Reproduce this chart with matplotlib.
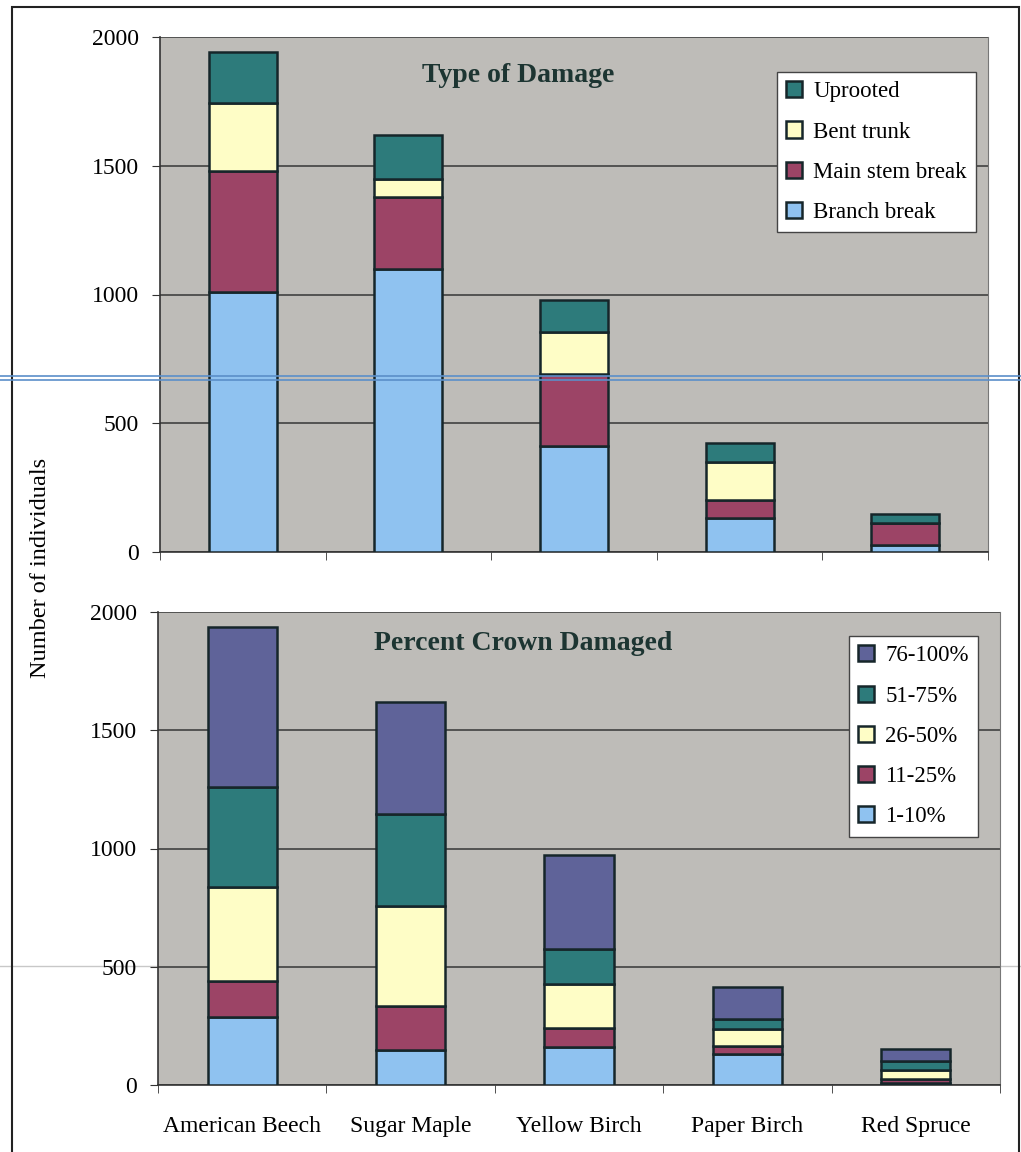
import numpy as np
import matplotlib.pyplot as plt
from matplotlib.lines import Line2D
from matplotlib.patches import Rectangle

plt.rcParams['font.family'] = ['Liberation Serif', 'DejaVu Serif']

species = ['American Beech', 'Sugar Maple', 'Yellow Birch', 'Paper Birch', 'Red Spruce']

# type of damage (top panel), stacked bottom -> top
branch_break = [1010, 1100, 410, 131, 27]
main_stem_break = [470, 280, 280, 71, 85]
bent_trunk = [262, 70, 165, 148, 0]
uprooted = [200, 170, 125, 72, 34]

# percent crown damaged (bottom panel), stacked bottom -> top
pct_1_10 = [286, 147, 161, 129, 8]
pct_11_25 = [153, 186, 80, 37, 17]
pct_26_50 = [397, 423, 184, 70, 37]
pct_51_75 = [425, 388, 151, 42, 39]
pct_76_100 = [677, 475, 398, 135, 51]

c_blue = '#8fc2f0'
c_maroon = '#9c4466'
c_yellow = '#fefdc6'
c_teal = '#2d7b7b'
c_slate = '#5f6399'
bg = '#bebcb8'
edge = '#16262a'
title_col = '#1d3532'

W, H = 1021, 1152
fig = plt.figure(figsize=(W / 100, H / 100), dpi=100)

def px_axes(left, right, top, bottom):
    return fig.add_axes([left / W, 1 - bottom / H, (right - left) / W, (bottom - top) / H])

def style_axes(ax):
    ax.set_facecolor(bg)
    ax.set_xlim(-0.5, len(species) - 0.5)
    ax.set_ylim(0, 2000)
    ax.set_yticks([0, 500, 1000, 1500, 2000])
    ax.grid(axis='y', color='#4a4a4a', linewidth=1.3, zorder=0)
    ax.set_axisbelow(True)
    ax.spines['top'].set_visible(False)
    ax.spines['right'].set_color('#777777')
    ax.spines['left'].set_color('#333333')
    ax.spines['bottom'].set_color('#333333')
    ax.spines['left'].set_linewidth(1.2)
    ax.spines['bottom'].set_linewidth(1.2)
    ax.set_xticks(np.arange(len(species)))
    ax.set_xticks(np.arange(len(species) + 1) - 0.5, minor=True)
    ax.tick_params(axis='x', which='major', length=0, labelsize=17, pad=22)
    ax.tick_params(axis='x', which='minor', length=6, color='#333333')
    ax.tick_params(axis='y', length=6, labelsize=17, pad=9, color='#333333')

def stack(ax, layers, colors, labels):
    x = np.arange(len(species))
    base = np.zeros(len(species))
    handles = []
    for vals, col, lab in zip(layers, colors, labels):
        b = ax.bar(x, vals, 0.41, bottom=base, color=col, edgecolor=edge,
                   linewidth=1.8, label=lab, zorder=3)
        base += np.array(vals)
        handles.append(b)
    return handles

def add_legend(ax, handles, anchor):
    leg = ax.legend(handles[::-1], [h.get_label() for h in handles[::-1]],
                    loc='upper right', bbox_to_anchor=anchor, borderaxespad=0,
                    fontsize=16.5, fancybox=False, framealpha=1, edgecolor='#444444',
                    handlelength=0.7, handleheight=0.7, handletextpad=0.5,
                    labelspacing=0.84, borderpad=0.4)
    leg.get_frame().set_linewidth(1.0)
    return leg

# top panel
ax1 = px_axes(160, 988, 37, 552)
style_axes(ax1)
h1 = stack(ax1, [branch_break, main_stem_break, bent_trunk, uprooted],
           [c_blue, c_maroon, c_yellow, c_teal],
           ['Branch break', 'Main stem break', 'Bent trunk', 'Uprooted'])
ax1.set_xticklabels([])
ax1.text(0.432, 0.926, 'Type of Damage', transform=ax1.transAxes, ha='center',
         va='center', fontsize=20, fontweight='bold', color=title_col)
add_legend(ax1, h1, (0.9855, 0.932))

# bottom panel
ax2 = px_axes(158, 1000, 612, 1085)
style_axes(ax2)
h2 = stack(ax2, [pct_1_10, pct_11_25, pct_26_50, pct_51_75, pct_76_100],
           [c_blue, c_maroon, c_yellow, c_teal, c_slate],
           ['1-10%', '11-25%', '26-50%', '51-75%', '76-100%'])
ax2.set_xticklabels(species)
ax2.text(0.4335, 0.934, 'Percent Crown Damaged', transform=ax2.transAxes, ha='center',
         va='center', fontsize=20, fontweight='bold', color=title_col)
add_legend(ax2, h2, (0.974, 0.949))

fig.text(40 / W, 1 - 568 / H, 'Number of individuals', rotation=90, ha='center',
         va='center', fontsize=17.5)

# outer frame and scan lines
fig.patches.append(Rectangle((12 / W, -0.05), (1019 - 12) / W, 1 - 7 / H + 0.05,
                             transform=fig.transFigure, fill=False,
                             edgecolor='#222222', linewidth=1.5))
for yy in [376, 380]:
    fig.lines.append(Line2D([0, 1], [1 - yy / H] * 2, transform=fig.transFigure,
                            color='#5b8fc9', linewidth=1.2, zorder=10))
fig.lines.append(Line2D([0, 1], [1 - 966 / H] * 2, transform=fig.transFigure,
                        color='#c8c8c8', linewidth=1.0, zorder=-1))

fig.savefig('out.png', dpi=100)
